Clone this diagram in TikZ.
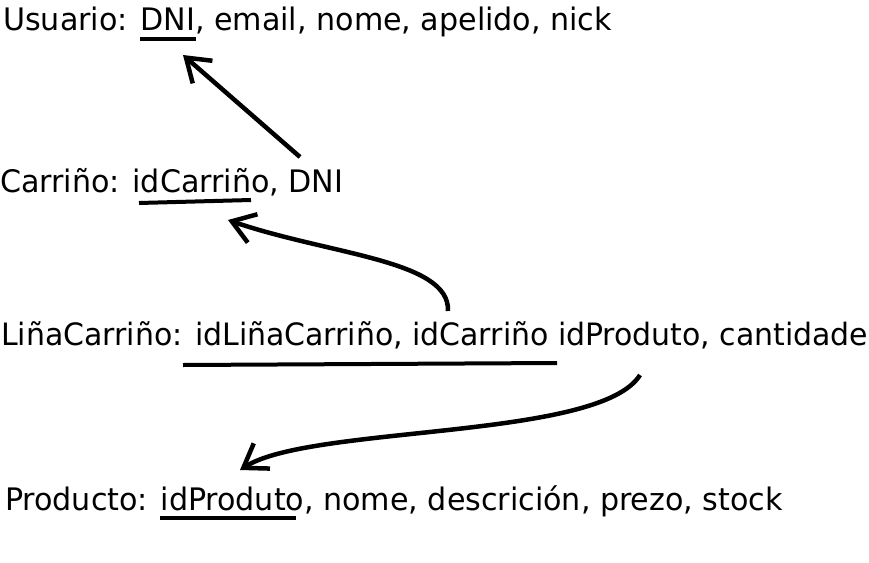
\documentclass[tikz,border=0pt]{standalone}
\usepackage{fontspec}
\setmainfont[FakeStretch=1.08]{DejaVu Sans Condensed}
\usetikzlibrary{arrows.meta}

\begin{document}
\begin{tikzpicture}[x=1pt,y=-1pt,
    rel/.style={anchor=base west, inner sep=0pt, font=\fontsize{31}{36}\selectfont},
    pk/.style={line width=4pt},
    fk/.style={line width=4.5pt, -{Straight Barb[length=22pt,width=30pt]}}]
            \useasboundingbox (0,0) rectangle (869,562);

            % Relations, one per line
            \node[rel] (usuario) at (3,30) {Usuario: DNI, email, nome, apelido, nick};
            \node[rel] (carrino) at (0,192) {Carriño: idCarriño, DNI};
            \node[rel, font=\fontsize{30.8}{36}\selectfont] (linacarrino) at (1,345) {LiñaCarriño: idLiñaCarriño, idCarriño idProduto, cantidade};
            \node[rel] (producto) at (5,510) {Producto: idProduto, nome, descrición, prezo, stock};

            % underline the primary keys
            \draw[pk] (140,39) -- (196,39);
            \draw[pk] (139,203) -- (251,200);
            \draw[pk] (183,365) -- (557,363);
            \draw[pk] (160,518) -- (296,518);

            % ends of the foreign key arrows
            \coordinate (usuarioDNI) at (183,55);
            \coordinate (carrinoDNI) at (300,157);
            \coordinate (carrinoId) at (228,220);
            \coordinate (linaId) at (448,311);
            \coordinate (linaProd) at (640,375);
            \coordinate (productoId) at (240,470);

            % draw the foreign key references
            \draw[fk] (carrinoDNI) -- (usuarioDNI);
            \draw[fk] (linaId) .. controls (450,260) and (330,255) .. (carrinoId);
            \draw[fk] (linaProd) .. controls (600,440) and (310,425) .. (productoId);
        \end{tikzpicture}
\end{document}
